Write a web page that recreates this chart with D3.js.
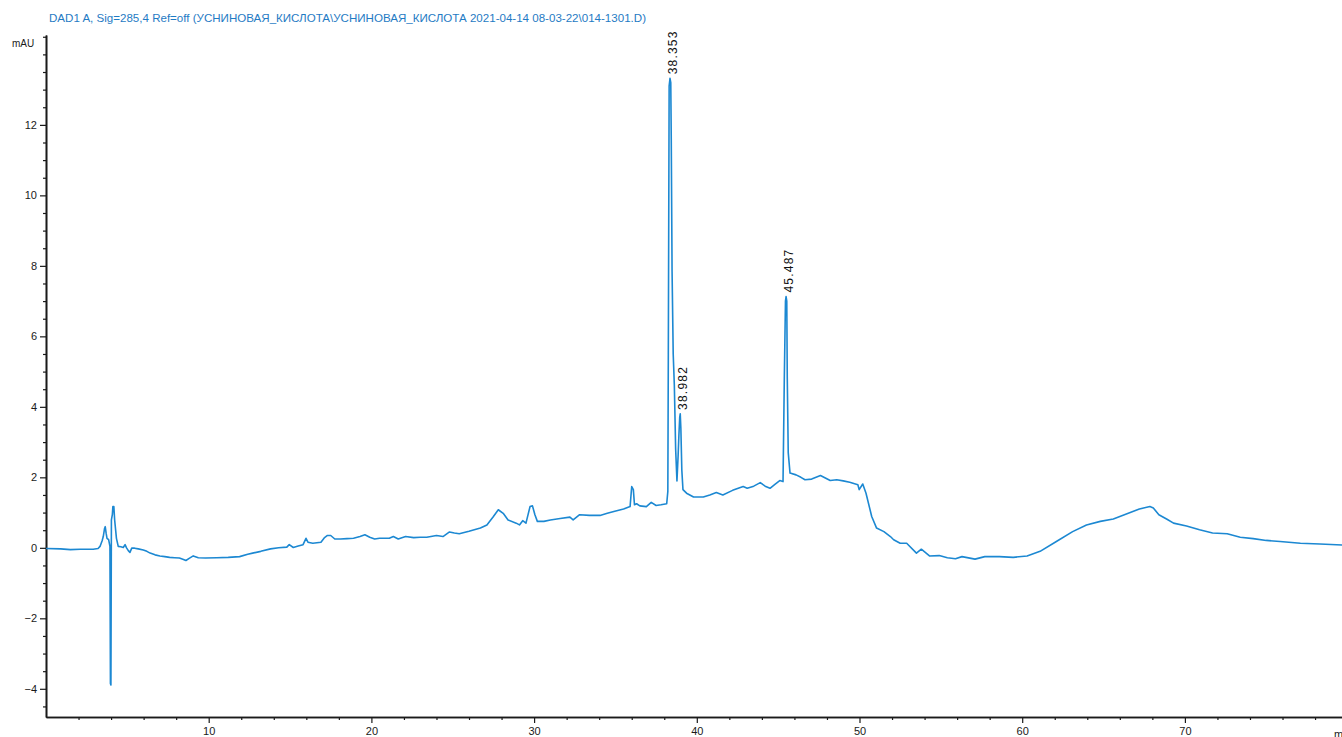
<!DOCTYPE html>
<html>
<head>
<meta charset="utf-8">
<script src="https://cdn.jsdelivr.net/npm/d3@7"></script>
<style>
  html, body { margin: 0; padding: 0; background: #fff; overflow: hidden; }
  svg { display: block; }
  text { font-family: "Liberation Sans Narrow", "Arial Narrow", "Liberation Sans", Arial, sans-serif; }
</style>
</head>
<body>
<svg id="chart" width="1342" height="737"></svg>
<script>
const titleText = "DAD1 A, Sig=285,4 Ref=off (УСНИНОВАЯ_КИСЛОТА\\УСНИНОВАЯ_КИСЛОТА 2021-04-14 08-03-22\\014-1301.D)";
const yUnit = "mAU";
const xUnit = "min";

const xMajorTicks = [10, 20, 30, 40, 50, 60, 70];
const yMajorTicks = [-4, -2, 0, 2, 4, 6, 8, 10, 12];

const peakTimes = [38.353, 38.982, 45.487];
const peakLabels = ["38.353", "38.982", "45.487"];

const traceTime = [
  0.0, 0.9, 1.5, 2.1, 2.9, 3.2, 3.32, 3.45, 3.52, 3.6, 3.64, 3.7, 3.75, 3.85, 3.93, 3.96, 3.99,
  4.02, 4.08, 4.11, 4.17, 4.22, 4.33, 4.44, 4.6, 4.75, 4.86, 4.95, 5.06, 5.16, 5.27, 5.45, 5.67,
  5.98, 6.2, 6.4, 6.7, 7.0, 7.3, 7.6, 7.9, 8.2, 8.45, 8.6, 8.8, 9.05, 9.36, 9.8, 10.5, 11.2, 11.9,
  12.4, 12.7, 13.2, 13.8, 14.3, 14.8, 14.95, 15.2, 15.5, 15.8, 15.98, 16.1, 16.4, 16.9, 17.1, 17.3,
  17.5, 17.75, 18.1, 18.5, 18.9, 19.3, 19.6, 19.9, 20.2, 20.5, 21.1, 21.35, 21.65, 22.1, 22.6, 23.0,
  23.4, 24.0, 24.4, 24.8, 25.1, 25.4, 26.0, 26.7, 27.1, 27.5, 27.8, 28.1, 28.4, 28.9, 29.1, 29.3,
  29.5, 29.75, 29.9, 30.05, 30.2, 30.6, 31.0, 31.6, 32.2, 32.4, 32.8, 33.4, 34.05, 34.5, 34.9, 35.5,
  35.9, 36.0, 36.1, 36.17, 36.3, 36.5, 36.9, 37.2, 37.5, 37.8, 38.15, 38.22, 38.25, 38.3, 38.353,
  38.4, 38.43, 38.48, 38.55, 38.62, 38.7, 38.78, 38.85, 38.9, 38.95, 38.982, 39.02, 39.08, 39.15,
  39.37, 39.8, 40.4, 40.8, 41.2, 41.6, 42.2, 42.85, 43.1, 43.5, 43.9, 44.2, 44.5, 44.8, 45.1, 45.3,
  45.38, 45.45, 45.487, 45.53, 45.56, 45.62, 45.73, 46.1, 46.4, 46.65, 47.06, 47.6, 47.9, 48.2,
  48.6, 49.0, 49.4, 49.9, 49.98, 50.2, 50.4, 50.75, 51.05, 51.5, 51.9, 52.1, 52.5, 52.9, 53.5, 53.8,
  54.3, 54.9, 55.4, 55.9, 56.3, 57.1, 57.7, 58.6, 59.45, 60.3, 61.1, 62.1, 63.1, 63.95, 64.8, 65.6,
  66.4, 67.2, 67.85, 68.06, 68.4, 68.9, 69.3, 70.1, 70.9, 71.7, 72.6, 73.4, 74.2, 75.0, 75.85, 77.1,
  78.3, 79.7
];
const traceMAU = [
  -0.02, -0.03, -0.05, -0.04, -0.04, -0.02, 0.04, 0.2, 0.32, 0.55, 0.6, 0.4, 0.27, 0.23, 0.04, -3.85, -3.89,
  0.79, 0.95, 1.17, 1.17, 0.79, 0.27, 0.04, 0.03, 0.01, 0.09, 0.0, -0.08, -0.13, -0.01, -0.01, -0.03,
  -0.06, -0.1, -0.15, -0.2, -0.23, -0.25, -0.27, -0.28, -0.29, -0.33, -0.36, -0.3, -0.23, -0.28, -0.29, -0.28, -0.27, -0.25,
  -0.18, -0.15, -0.1, -0.03, 0.0, 0.02, 0.09, 0.01, 0.05, 0.09, 0.27, 0.16, 0.13, 0.16, 0.28, 0.35,
  0.35, 0.25, 0.25, 0.26, 0.27, 0.32, 0.37, 0.3, 0.25, 0.27, 0.27, 0.32, 0.25, 0.32, 0.29, 0.3,
  0.3, 0.35, 0.32, 0.45, 0.42, 0.4, 0.47, 0.56, 0.65, 0.89, 1.08, 0.98, 0.79, 0.7, 0.65, 0.77,
  0.7, 1.17, 1.19, 0.94, 0.75, 0.75, 0.79, 0.83, 0.87, 0.79, 0.94, 0.92, 0.92, 0.98, 1.03, 1.10,
  1.17, 1.74, 1.65, 1.22, 1.25, 1.19, 1.17, 1.29, 1.2, 1.22, 1.25, 1.6, 5.5, 13.1, 13.32,
  13.2, 11.6, 7.85, 5.5, 4.6, 2.8, 1.9, 2.6, 3.2, 3.7, 3.8, 3.4, 2.2, 1.65,
  1.55, 1.44, 1.44, 1.5, 1.57, 1.5, 1.63, 1.74, 1.69, 1.75, 1.85, 1.75, 1.69, 1.8, 1.91, 1.88,
  4.85, 7.0, 7.13, 7.0, 4.85, 2.7, 2.12, 2.07, 2.0, 1.93, 1.95, 2.05, 1.98, 1.91,
  1.93, 1.9, 1.86, 1.79, 1.65, 1.81, 1.55, 0.89, 0.56, 0.46, 0.32, 0.23, 0.13, 0.13, -0.15, -0.04,
  -0.23, -0.22, -0.28, -0.31, -0.25, -0.32, -0.25, -0.25, -0.27, -0.23, -0.1, 0.18, 0.46, 0.65, 0.75, 0.82,
  0.96, 1.10, 1.17, 1.13, 0.94, 0.81, 0.7, 0.62, 0.51, 0.42, 0.4, 0.3, 0.26, 0.21, 0.18, 0.13,
  0.11, 0.08
];

const W = 1342, H = 737;
const svg = d3.select("#chart");

const x = d3.scaleLinear().domain([0, 80]).range([46, 46 + 80 * 16.27]);
const y = d3.scaleLinear().domain([-4.8, 14.55]).range([717, 35]);

const lineColor = "#1c88d2";
const axisColor = "#1a1a1a";

// Title
svg.append("text")
  .attr("x", 49).attr("y", 22)
  .attr("font-size", 11.5)
  .attr("fill", "#1f7bc4")
  .attr("textLength", 597)
  .attr("lengthAdjust", "spacingAndGlyphs")
  .text(titleText);

// Y unit
svg.append("text")
  .attr("x", 12).attr("y", 47)
  .attr("font-size", 10)
  .attr("fill", axisColor)
  .text(yUnit);

// Y axis: minor + major
const yMinor = d3.range(-4.5, 14.51, 0.5).filter(v => !yMajorTicks.includes(v));
const yAxisMinor = d3.axisLeft(y).tickValues(yMinor).tickSize(3).tickSizeOuter(0).tickFormat("");
const yAxisMajor = d3.axisLeft(y).tickValues(yMajorTicks).tickSize(6).tickSizeOuter(0).tickPadding(3).tickFormat(d3.format("d"));

const gyMinor = svg.append("g").attr("transform", `translate(${x(0)},0)`).call(yAxisMinor);
const gyMajor = svg.append("g").attr("transform", `translate(${x(0)},0)`).call(yAxisMajor);
[gyMinor, gyMajor].forEach(g => {
  g.selectAll("path").attr("stroke", axisColor).attr("stroke-width", 1.6);
  g.selectAll("line").attr("stroke", axisColor).attr("stroke-width", 1.2);
});
gyMajor.selectAll("text").attr("font-size", 11).attr("fill", axisColor)
  .attr("font-family", "'Liberation Sans Narrow', 'Arial Narrow', 'Liberation Sans', Arial, sans-serif");

// X axis
const xMinor = d3.range(2, 80, 2).filter(v => !xMajorTicks.includes(v));
const xAxisMinor = d3.axisBottom(x).tickValues(xMinor).tickSize(3).tickSizeOuter(0).tickFormat("");
const xAxisMajor = d3.axisBottom(x).tickValues(xMajorTicks).tickSize(6).tickSizeOuter(0).tickPadding(4).tickFormat(d3.format("d"));
const gxMinor = svg.append("g").attr("transform", `translate(0,${y(-4.8)})`).call(xAxisMinor);
const gxMajor = svg.append("g").attr("transform", `translate(0,${y(-4.8)})`).call(xAxisMajor);
[gxMinor, gxMajor].forEach(g => {
  g.selectAll("path").attr("stroke", axisColor).attr("stroke-width", 1.6);
  g.selectAll("line").attr("stroke", axisColor).attr("stroke-width", 1.2);
});
gxMajor.selectAll("text").attr("font-size", 11).attr("fill", axisColor)
  .attr("font-family", "'Liberation Sans Narrow', 'Arial Narrow', 'Liberation Sans', Arial, sans-serif");

// X unit (cut at right edge)
svg.append("text")
  .attr("x", 1334).attr("y", y(-4.8) + 4 + 6 + 11)
  .attr("font-size", 11).attr("fill", axisColor)
  .text(xUnit);

// Trace
const trace = traceTime.map((t, i) => [t, traceMAU[i]]);
const line = d3.line().x(d => x(d[0])).y(d => y(d[1]));
svg.append("path")
  .datum(trace)
  .attr("fill", "none")
  .attr("stroke", lineColor)
  .attr("stroke-width", 1.6)
  .attr("stroke-linejoin", "round")
  .attr("d", line);

// Peak labels
peakTimes.forEach((rt, i) => {
  const idx = traceTime.indexOf(rt);
  const h = traceMAU[idx];
  const px = x(rt) + 6.5, py = y(h) - 4;
  svg.append("text")
    .attr("transform", `translate(${px},${py}) rotate(-90)`)
    .attr("font-size", 12)
    .attr("letter-spacing", 1.2)
    .attr("fill", "#111")
    .attr("text-anchor", "start")
    .text(peakLabels[i]);
});
</script>
</body>
</html>
